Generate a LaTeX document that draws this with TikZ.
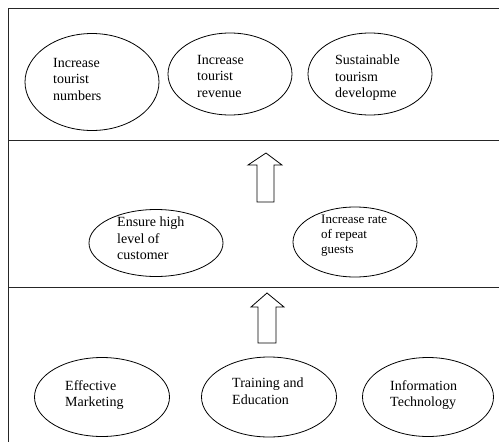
\documentclass[tikz,border=0pt]{standalone}
\usepackage{fontspec}
\setmainfont{Liberation Serif}
\newfontfamily\tnr{Liberation Serif}
\usetikzlibrary{shapes.geometric}
\begin{document}
\begin{tikzpicture}[x=1pt,y=-1pt,
  oval/.style={draw=black,line width=0.8pt,ellipse,inner sep=0pt},
  lbl/.style={anchor=north west,inner sep=0pt,align=left,font=\tnr\fontsize{14}{16.5}\selectfont},
  lblsmall/.style={anchor=north west,inner sep=0pt,align=left,font=\tnr\fontsize{13}{15}\selectfont},
  frame/.style={draw=black!85,line width=1pt},
  blockarrow/.style={draw=black,line width=0.8pt,fill=white}]
\useasboundingbox (0,0) rectangle (499,445);
% frame
\coordinate (tl) at (8,8);
\coordinate (tr) at (499,8);
\coordinate (bl) at (8,442);
\coordinate (m1l) at (8,140);
\coordinate (m1r) at (499,140);
\coordinate (m2l) at (8,287);
\coordinate (m2r) at (499,287);
\draw[frame] (tr) -- (tl) -- (bl);
\draw[frame] (m1l) -- (m1r);
\draw[frame] (m2l) -- (m2r);
% top row
\node[oval,minimum width=134,minimum height=97] (e1) at (92,82) {};
\node[oval,minimum width=124,minimum height=82] (e2) at (230,74) {};
\node[oval,minimum width=124,minimum height=82] (e3) at (370,74) {};
\node[lbl] (t1) at (53,58) {Increase\\tourist\\numbers};
\node[lbl] (t2) at (197,55) {Increase\\tourist\\revenue};
\node[lbl] (t3) at (335,55) {Sustainable\\tourism\\developme};
% middle row
\node[oval,minimum width=134,minimum height=67] (e4) at (156,243) {};
\node[oval,minimum width=124,minimum height=70] (e5) at (355,242) {};
\node[lbl] (t4) at (117,217) {Ensure high\\level of\\customer};
\node[lblsmall] (t5) at (321,215) {Increase rate\\of repeat\\guests};
% bottom row
\node[oval,minimum width=135,minimum height=79] (e6) at (102,397) {};
\node[oval,minimum width=135,minimum height=80] (e7) at (269,397) {};
\node[oval,minimum width=131,minimum height=79] (e8) at (428,397) {};
\node[lbl] (t6) at (65,380) {Effective\\Marketing};
\node[lbl] (t7) at (232,378) {Training and\\Education};
\node[lbl] (t8) at (390,380) {Information\\Technology};
% block arrows
\draw[blockarrow] (257,202) -- (257,165) -- (248,165) -- (266,153) -- (282,165) -- (274,165) -- (274,202) -- cycle;
\draw[blockarrow] (258,343) -- (258,307) -- (251,307) -- (267,293) -- (284,307) -- (276,307) -- (276,343) -- cycle;
\end{tikzpicture}
\end{document}
